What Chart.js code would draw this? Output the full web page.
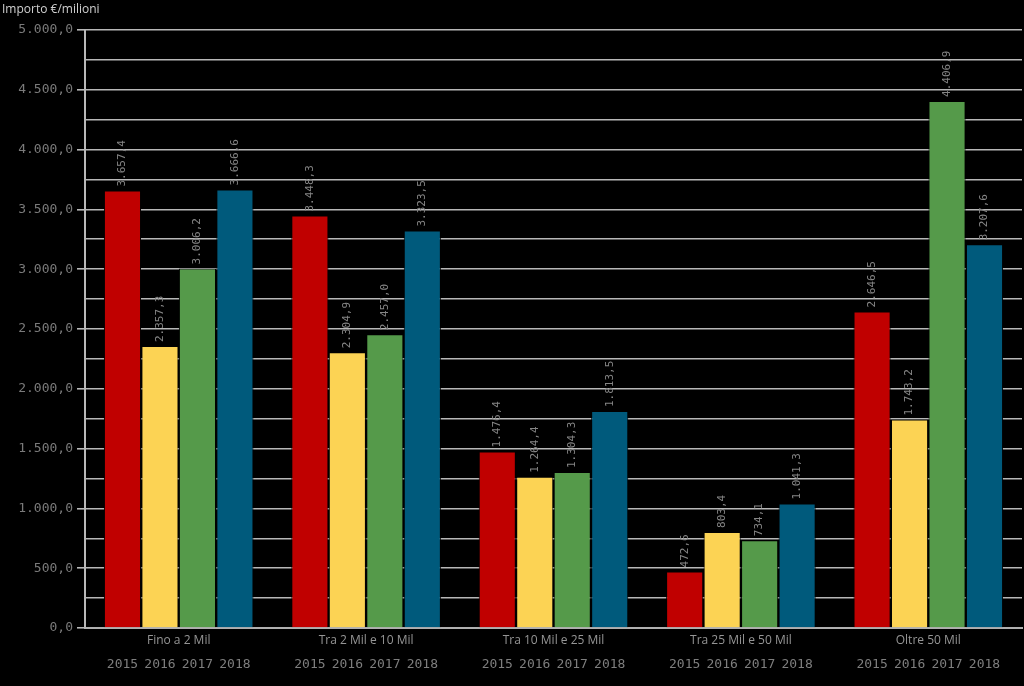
<!DOCTYPE html>
<html><head><meta charset="utf-8">
<script src="https://cdn.jsdelivr.net/npm/chart.js@4.4.1/dist/chart.umd.min.js"></script>
<style>html,body{margin:0;padding:0;background:#000;}#wrap{width:1024px;height:686px;}</style>
</head><body><div id="wrap"><canvas id="c" width="1024" height="686"></canvas></div>
<script>
const categories = ["Fino a 2 Mil","Tra 2 Mil e 10 Mil","Tra 10 Mil e 25 Mil","Tra 25 Mil e 50 Mil","Oltre 50 Mil"];
const years = ["2015","2016","2017","2018"];
const v2015 = [3657.4, 3448.3, 1476.4, 472.6, 2646.5];
const v2016 = [2357.3, 2304.9, 1264.4, 803.4, 1743.2];
const v2017 = [3006.2, 2457.0, 1304.3, 734.1, 4406.9];
const v2018 = [3666.6, 3323.5, 1813.5, 1041.3, 3207.6];
const colors = ["#c00000","#fcd354","#559a4a","#005a7c"];
const yTitle = "Importo €/milioni";

function fmtNum(v){
  const s = v.toFixed(1).split('.');
  const int = s[0].replace(/\B(?=(\d{3})+(?!\d))/g,'.');
  return int + ',' + s[1];
}
const mono = "'DejaVu Sans Mono', monospace";

const overlay = {
  id:'overlay',
  afterDatasetsDraw(chart){
    const ctx = chart.ctx;
    ctx.save();
    ctx.fillStyle = '#d0d0d0';
    ctx.font = "12px 'Open Sans', sans-serif";
    ctx.textAlign = 'left'; ctx.textBaseline = 'middle';
    ctx.fillText(yTitle, 2, 10);
    chart.data.datasets.forEach((ds, di) => {
      const meta = chart.getDatasetMeta(di);
      meta.data.forEach((bar, i) => {
        ctx.save();
        ctx.translate(bar.x, bar.y - 4);
        ctx.rotate(-Math.PI/2);
        ctx.fillStyle = '#858585';
        ctx.font = "11px " + mono;
        ctx.textAlign = 'left'; ctx.textBaseline = 'middle';
        ctx.fillText(fmtNum(ds.data[i]), 0, 0);
        ctx.restore();
        ctx.fillStyle = '#7e7e7e';
        ctx.font = "13px " + mono;
        ctx.textAlign = 'center'; ctx.textBaseline = 'middle';
        ctx.fillText(years[di], bar.x, 665);
      });
    });
    ctx.restore();
  }
};

new Chart(document.getElementById('c'), {
  type:'bar',
  data:{
    labels: categories,
    datasets: [v2015, v2016, v2017, v2018].map((d, i) => ({
      label: years[i], data: d, backgroundColor: colors[i],
      borderColor:'#000', borderWidth:1,
      barPercentage:0.99, categoryPercentage:0.8
    }))
  },
  options:{
    responsive:false, animation:false,
    layout:{padding:{top:30, right:2, left:0, bottom:0}},
    plugins:{legend:{display:false}, tooltip:{enabled:false}},
    scales:{
      x:{
        grid:{display:false, drawTicks:false},
        border:{color:'#b0b0b0', width:2},
        ticks:{color:'#959595', font:{size:12, family:"'Open Sans', sans-serif"}, padding:5, maxRotation:0},
        afterFit(s){ s.height = 58; }
      },
      y:{
        min:0, max:5000,
        ticks:{stepSize:250, color:'#7a7a7a', font:{size:13, family:mono}, padding:4,
          callback:(v)=> (v % 500 === 0) ? fmtNum(v) : ''},
        grid:{color:'#b8b8b8', lineWidth:1.6, tickLength:8,
          tickColor:(c)=> (c.tick && c.tick.value % 500 === 0) ? '#b8b8b8' : 'rgba(0,0,0,0)'},
        border:{color:'#b8b8b8', width:2},
        afterFit(s){ s.width = 85; }
      }
    }
  },
  plugins:[overlay]
});
</script></body></html>
